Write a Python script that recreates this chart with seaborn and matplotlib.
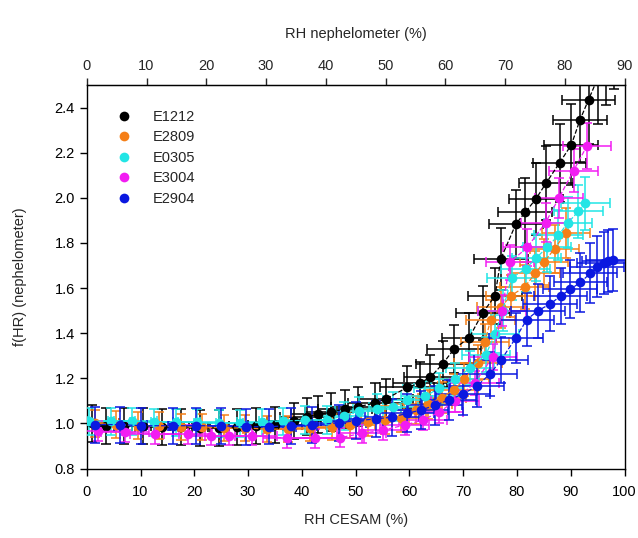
import numpy as np
import pandas as pd
import matplotlib
matplotlib.use('Agg')
import matplotlib.pyplot as plt
from matplotlib.lines import Line2D
import seaborn as sns

# series names, in legend order
series_names = ['E1212', 'E2809', 'E0305', 'E3004', 'E2904']
series_colors = ['#000000', '#f57f17', '#22e5e5', '#f21cf2', '#0a18e0']

# RH CESAM (%) and f(RH)
rh_e1212 = [1, 3.5, 7, 10.5, 14, 17.5, 21, 24.5, 28, 31.5, 35, 38.5, 41, 43, 45.5, 48, 50.5,
            53.6, 55.7, 59.6, 62, 63.9, 66.2, 68.3, 71.1, 73.6, 75.9, 77, 79.8, 81.5, 83.5,
            85.4, 87.9, 90.1, 91.7, 93.3, 95, 96.5, 98]
f_e1212 = [1.0, 0.99, 0.99, 0.99, 0.985, 0.985, 0.98, 0.98, 0.985, 0.99, 0.995, 1.01, 1.03,
           1.04, 1.05, 1.065, 1.075, 1.09, 1.11, 1.16, 1.18, 1.205, 1.265, 1.33, 1.38, 1.49,
           1.565, 1.73, 1.885, 1.935, 1.995, 2.065, 2.155, 2.235, 2.345, 2.435, 2.53, 2.62, 2.7]

rh_e2809 = [1.5, 5.5, 9.5, 13.5, 17.5, 21.5, 25.5, 29.5, 33.5, 37.5, 41.5, 45.6, 49, 52.3,
            55.5, 58.5, 61.2, 63.5, 66, 68.3, 70.2, 72.7, 74, 75.1, 77, 78.8, 81.4, 83.4,
            85, 87, 89.1]
f_e2809 = [1.0, 0.995, 0.99, 0.99, 0.985, 0.985, 0.98, 0.98, 0.975, 0.975, 0.98, 0.985,
           0.995, 1.005, 1.015, 1.025, 1.06, 1.085, 1.115, 1.15, 1.195, 1.27, 1.36, 1.46,
           1.515, 1.565, 1.605, 1.665, 1.715, 1.775, 1.845]

rh_e0305 = [0.5, 4.5, 8.5, 12.5, 16.5, 20.5, 24.5, 28.5, 32.5, 36.5, 40.5, 44.7, 47.8, 50.6,
            54, 57, 59.6, 62.9, 65.4, 68.5, 71.2, 74.2, 75.9, 77.3, 79, 81.6, 83.6, 85.6,
            87.7, 89.5, 91.4, 92.7]
f_e0305 = [1.01, 1.01, 1.01, 1.005, 1.005, 1.005, 1.0, 1.0, 1.005, 1.01, 1.015, 1.015, 1.035,
           1.055, 1.065, 1.075, 1.105, 1.12, 1.155, 1.195, 1.245, 1.305, 1.395, 1.5, 1.645,
           1.685, 1.735, 1.78, 1.835, 1.89, 1.94, 1.975]

rh_e3004 = [2.1, 7.1, 12.6, 18.8, 23.1, 26.5, 30.8, 37.3, 42.5, 47.1, 51.1, 55.1, 59.1, 62.5,
            65.5, 68.5, 72.1, 75.5, 77.2, 78.7, 81.9, 85.3, 87.8, 90.5, 93]
f_e3004 = [0.967, 0.96, 0.952, 0.952, 0.945, 0.945, 0.945, 0.935, 0.935, 0.937, 0.956, 0.97,
           0.993, 1.015, 1.05, 1.1, 1.18, 1.295, 1.5, 1.715, 1.78, 1.89, 2.0, 2.12, 2.23]

rh_e2904 = [1.5, 6.2, 10.1, 16, 20.3, 24.9, 29.6, 33.9, 37.9, 41.9, 46.9, 50, 53.7, 56.7,
            59.6, 62.2, 64.7, 67.4, 69.9, 72.5, 75, 77, 79.8, 81.8, 83.9, 86.2, 88.1, 89.9,
            91.8, 93.6, 94.9, 96.1, 97, 97.8]
f_e2904 = [0.995, 0.995, 0.99, 0.99, 0.99, 0.99, 0.985, 0.986, 0.99, 0.993, 1.003, 1.012,
           1.02, 1.028, 1.045, 1.06, 1.08, 1.105, 1.13, 1.165, 1.22, 1.28, 1.38, 1.46, 1.5,
           1.53, 1.565, 1.595, 1.625, 1.665, 1.695, 1.71, 1.72, 1.725]

# uncertainties: +- RH (%) and relative f(RH) error
rh_err = [5.0, 4.5, 4.5, 4.5, 5.0]
f_rel_err = [0.08, 0.06, 0.06, 0.045, 0.08]

all_rh = [rh_e1212, rh_e2809, rh_e0305, rh_e3004, rh_e2904]
all_f = [f_e1212, f_e2809, f_e0305, f_e3004, f_e2904]

frames = []
for name, rh, f in zip(series_names, all_rh, all_f):
    frames.append(pd.DataFrame({'RH': rh, 'f': f, 'sample': name}))
df = pd.concat(frames, ignore_index=True)

sns.set_style('ticks')
plt.rcParams['font.family'] = ['Liberation Sans', 'DejaVu Sans']

fig = plt.figure(figsize=(6.38, 5.38), dpi=100)
ax = fig.add_axes([0.136, 0.129, 0.843, 0.713])

palette = dict(zip(series_names, series_colors))

# error bars
for i, name in enumerate(series_names):
    sub = df[df['sample'] == name]
    ax.errorbar(sub['RH'], sub['f'], xerr=rh_err[i], yerr=sub['f'] * f_rel_err[i],
                fmt='none', ecolor=series_colors[i], elinewidth=1.1, capsize=3.5,
                capthick=1.1, zorder=2 + i)

# dashed lines + markers
sns.lineplot(data=df, x='RH', y='f', hue='sample', palette=palette, hue_order=series_names,
             sort=False, estimator=None, linestyle='--', linewidth=0.9, marker='o',
             markersize=7, markeredgewidth=0, legend=False, ax=ax, zorder=10)

ax.set_xlim(0, 100)
ax.set_ylim(0.8, 2.5)
ax.set_xticks(np.arange(0, 101, 10))
ax.set_yticks(np.arange(0.8, 2.41, 0.2))
ax.yaxis.set_major_formatter(matplotlib.ticker.FormatStrFormatter('%.1f'))
ax.tick_params(direction='out', length=5, width=1, labelsize=10.5, colors='black')
ax.tick_params(axis='x', pad=7)
for s in ax.spines.values():
    s.set_visible(True)
    s.set_linewidth(1.0)
    s.set_color('black')

ax.set_xlabel('RH CESAM (%)', fontsize=10.5, labelpad=10)
ax.set_ylabel('f(HR) (nephelometer)', fontsize=10.5, labelpad=20)

top = ax.secondary_xaxis('top', functions=(lambda x: x * 0.9, lambda x: x / 0.9))
top.set_xticks(np.arange(0, 91, 10))
top.tick_params(direction='out', length=5, width=1, labelsize=10.5)
top.set_xlabel('RH nephelometer (%)', fontsize=10.5, labelpad=15)

handles = [Line2D([], [], linestyle='none', marker='o', markersize=7, markeredgewidth=0,
                  color=c) for c in series_colors]
ax.legend(handles, series_names, loc='upper left', bbox_to_anchor=(0.025, 0.97), frameon=False,
          fontsize=10.5, handletextpad=1.2, labelspacing=0.45, handlelength=1.5)

fig.savefig('out.png', dpi=100)
